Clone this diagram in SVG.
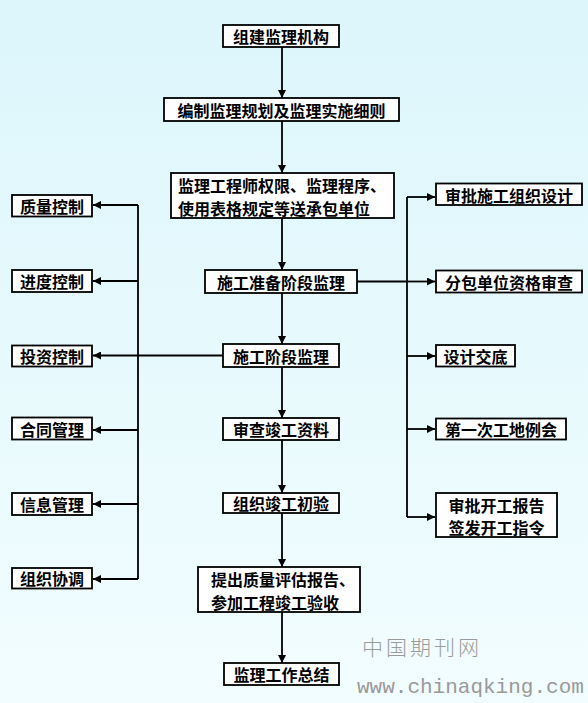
<svg xmlns="http://www.w3.org/2000/svg" width="588" height="703" viewBox="0 0 588 703">
<defs>
<linearGradient id="bg" x1="0" y1="0" x2="0" y2="1">
<stop offset="0" stop-color="#dcf6fb"/>
<stop offset="1" stop-color="#f2fdff"/>
</linearGradient>
<marker id="ah" viewBox="0 0 10 10" refX="10" refY="5" markerWidth="8" markerHeight="8" markerUnits="userSpaceOnUse" orient="auto">
<path d="M0,0 L10,5 L0,10 Z" fill="#000"/>
</marker>
<style>
.box{fill:#ffffff;stroke:#000;stroke-width:1.8}
.t{font-family:"Noto Sans CJK SC","Noto Sans",sans-serif;font-size:16px;font-weight:700;fill:#000;dominant-baseline:central}
.c{text-anchor:middle}
.ln{fill:none;stroke:#000;stroke-width:1.8}
.ar{fill:none;stroke:#000;stroke-width:1.8;marker-end:url(#ah)}
.wm{fill:#9a9a9a}
</style>
</defs>
<rect width="588" height="703" fill="url(#bg)"/>

<g id="connectors">
<line class="ar" x1="282" y1="47" x2="282" y2="98"/>
<line class="ar" x1="282" y1="121" x2="282" y2="173"/>
<line class="ar" x1="282" y1="218" x2="282" y2="270"/>
<line class="ar" x1="282" y1="293" x2="282" y2="344"/>
<line class="ar" x1="282" y1="367" x2="282" y2="418"/>
<line class="ar" x1="282" y1="440" x2="282" y2="493"/>
<line class="ar" x1="282" y1="513" x2="282" y2="567"/>
<line class="ar" x1="282" y1="612" x2="282" y2="663"/>
<!-- left branch -->
<line class="ln" x1="223" y1="355.5" x2="138" y2="355.5"/>
<line class="ln" x1="138" y1="205" x2="138" y2="579"/>
<line class="ar" x1="138" y1="205" x2="93" y2="205"/>
<line class="ar" x1="138" y1="281" x2="93" y2="281"/>
<line class="ar" x1="138" y1="355.5" x2="93" y2="355.5"/>
<line class="ar" x1="138" y1="430" x2="93" y2="430"/>
<line class="ar" x1="138" y1="504" x2="93" y2="504"/>
<line class="ar" x1="138" y1="579" x2="93" y2="579"/>
<!-- right branch -->
<line class="ln" x1="407" y1="197" x2="407" y2="517"/>
<line class="ln" x1="357" y1="281.5" x2="407" y2="281.5"/>
<line class="ar" x1="407" y1="197" x2="435" y2="197"/>
<line class="ar" x1="407" y1="281.5" x2="435" y2="281.5"/>
<line class="ar" x1="407" y1="356" x2="435" y2="356"/>
<line class="ar" x1="407" y1="429" x2="435" y2="429"/>
<line class="ar" x1="407" y1="517" x2="435" y2="517"/>
</g>

<g id="n1"><rect class="box" x="223" y="25" width="116" height="22"/><text class="t c" x="281" y="36">组建监理机构</text></g>
<g id="n2"><rect class="box" x="164" y="98" width="235" height="23"/><text class="t c" x="281.5" y="109.5">编制监理规划及监理实施细则</text></g>
<g id="n3"><rect class="box" x="171" y="173" width="223" height="45"/><text class="t" x="178" y="185">监理工程师权限、监理程序、</text><text class="t" x="178" y="208">使用表格规定等送承包单位</text></g>
<g id="n4"><rect class="box" x="205" y="270" width="152" height="23"/><text class="t c" x="281" y="281.5">施工准备阶段监理</text></g>
<g id="n5"><rect class="box" x="223" y="344" width="116" height="23"/><text class="t c" x="281" y="355.5">施工阶段监理</text></g>
<g id="n6"><rect class="box" x="223" y="418" width="116" height="22"/><text class="t c" x="281" y="429">审查竣工资料</text></g>
<g id="n7"><rect class="box" x="223" y="493" width="116" height="20"/><text class="t c" x="281" y="503">组织竣工初验</text></g>
<g id="n8"><rect class="box" x="198" y="567" width="162" height="45"/><text class="t" x="211" y="578.5">提出质量评估报告、</text><text class="t" x="211" y="601.5">参加工程竣工验收</text></g>
<g id="n9"><rect class="box" x="224" y="663" width="115" height="22"/><text class="t c" x="281.5" y="674">监理工作总结</text></g>

<g id="l1"><rect class="box" x="12" y="195" width="80" height="21.5"/><text class="t c" x="52" y="205.5">质量控制</text></g>
<g id="l2"><rect class="box" x="12" y="270" width="80" height="22"/><text class="t c" x="52" y="281">进度控制</text></g>
<g id="l3"><rect class="box" x="12" y="345.5" width="80" height="21"/><text class="t c" x="52" y="356">投资控制</text></g>
<g id="l4"><rect class="box" x="12" y="417.5" width="80" height="22"/><text class="t c" x="52" y="428.5">合同管理</text></g>
<g id="l5"><rect class="box" x="12" y="493" width="80" height="22"/><text class="t c" x="52" y="504">信息管理</text></g>
<g id="l6"><rect class="box" x="12" y="568" width="80" height="20.5"/><text class="t c" x="52" y="578">组织协调</text></g>

<g id="r1"><rect class="box" x="436" y="183.5" width="146" height="21.5"/><text class="t c" x="509" y="194.5">审批施工组织设计</text></g>
<g id="r2"><rect class="box" x="436" y="270.5" width="146" height="22"/><text class="t c" x="509" y="281.5">分包单位资格审查</text></g>
<g id="r3"><rect class="box" x="436" y="345" width="79" height="21.5"/><text class="t c" x="475.5" y="356">设计交底</text></g>
<g id="r4"><rect class="box" x="436" y="418.5" width="130" height="21"/><text class="t c" x="501" y="429">第一次工地例会</text></g>
<g id="r5"><rect class="box" x="436" y="493" width="121" height="44"/><text class="t c" x="496.5" y="505">审批开工报告</text><text class="t c" x="496.5" y="527">签发开工指令</text></g>

<text class="wm" x="362" y="655" font-family="'Noto Sans CJK SC',sans-serif" font-size="21" font-weight="300" letter-spacing="3">中国期刊网</text>
<text class="wm" x="357" y="693" font-family="'Liberation Mono',monospace" font-size="21">www.chinaqking.com</text>
</svg>
